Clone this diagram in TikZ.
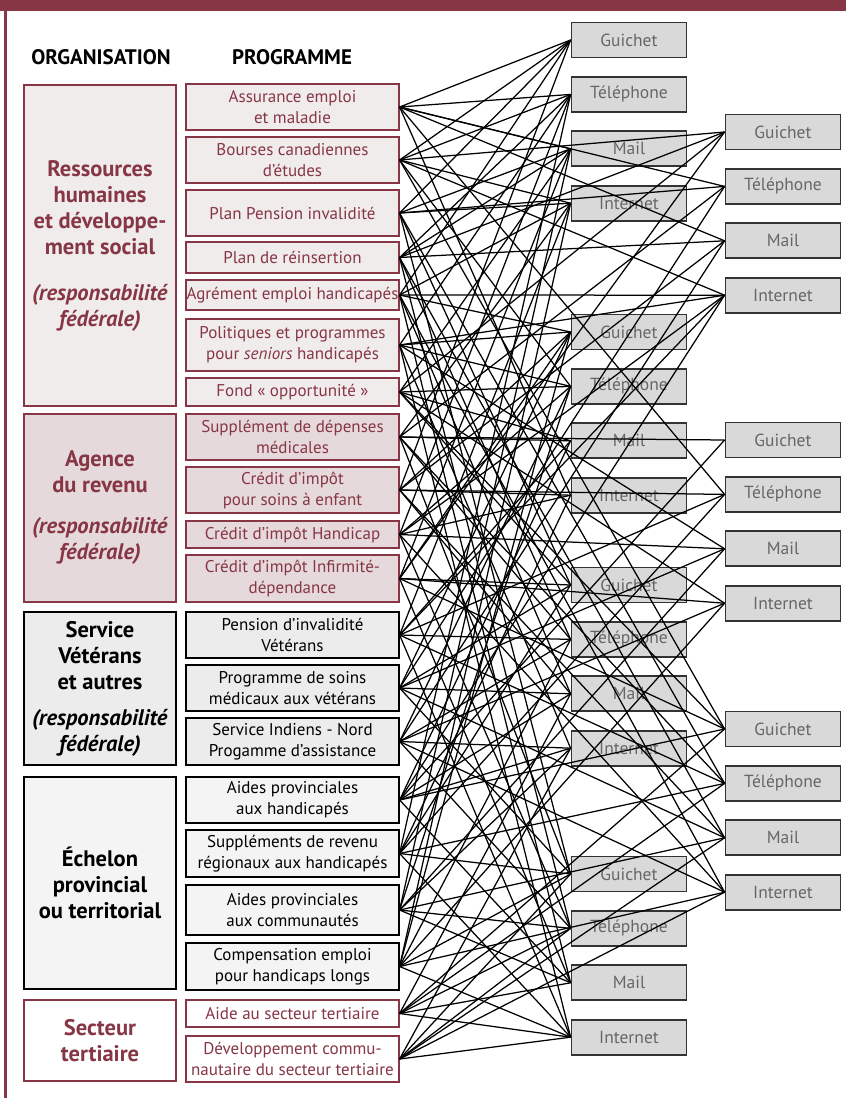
\documentclass[tikz,border=0pt]{standalone}
\usepackage{fontspec}
\setmainfont{PT Sans}
\usepackage{xcolor}
\usepackage{tikz}
\usetikzlibrary{positioning}

\definecolor{bordeaux}{RGB}{134,54,68}
\definecolor{rosepale}{RGB}{241,236,236}
\definecolor{rosefonce}{RGB}{230,217,219}
\definecolor{grispale}{RGB}{236,236,236}
\definecolor{grisclair}{RGB}{244,244,244}
\definecolor{griscanal}{RGB}{217,217,217}

\begin{document}
\begin{tikzpicture}[
    x=1pt, y=-1pt,
    org/.style={draw, line width=1.3pt, minimum width=152pt, inner sep=0pt,
      align=center, font=\fontsize{22.5}{26}\selectfont\bfseries},
    prog/.style={draw, line width=1.2pt, minimum width=213pt, inner sep=0pt,
      align=center, font=\fontsize{17}{21}\selectfont},
    rhbox/.style={draw=bordeaux, text=bordeaux, fill=rosepale},
    arbox/.style={draw=bordeaux, text=bordeaux, fill=rosefonce},
    svbox/.style={draw=black, text=black, fill=grispale},
    epbox/.style={draw=black, text=black, fill=grisclair},
    stbox/.style={draw=bordeaux, text=bordeaux, fill=white},
    canal/.style={draw=black!80, line width=1.8pt, fill=griscanal, text=black!60,
      minimum width=115pt, minimum height=35pt, inner sep=0pt,
      font=\fontsize{17.5}{20}\selectfont},
    lien/.style={line width=1.25pt}]

    \useasboundingbox (0,0) rectangle (846,1098);

    % cadre
    \fill [bordeaux] (0,0) rectangle (846,11);
    \fill [bordeaux] (4,11) rectangle (7,1098);

    \node [font=\fontsize{21}{24}\selectfont\bfseries] (titreorg) at (101,57) {ORGANISATION};
    \node [font=\fontsize{21}{24}\selectfont\bfseries] (titreprog) at (292,57) {PROGRAMME};

    % organisations
    \node [org, rhbox, minimum height=321pt] (orgRH) at (100,245.5)
    {Ressources\\humaines\\et développe-\\ment social\\[20pt]
      \textit{(responsabilité}\\\textit{fédérale)}};
    \node [org, arbox, minimum height=188pt] (orgAR) at (100,508)
    {Agence\\du revenu\\[15pt]\textit{(responsabilité}\\\textit{fédérale)}};
    \node [org, svbox, minimum height=153pt] (orgSV) at (100,688.5)
    {Service\\Vétérans\\et autres\\[10pt]\textit{(responsabilité}\\\textit{fédérale)}};
    \node [org, epbox, minimum height=212pt] (orgEP) at (100,883)
    {Échelon\\provincial\\ou territorial};
    \node [org, stbox, minimum height=81pt] (orgST) at (100,1040.5)
    {Secteur\\tertiaire};

    % programmes
    \foreach \n/\haut/\bas/\sty/\txt
    [evaluate=\haut as \h using \bas-\haut,
     evaluate=\haut as \yc using (\haut+\bas)/2] in {
      1/84/130/rhbox/{Assurance emploi\\et maladie},
      2/137/183/rhbox/{Bourses canadiennes\\d’études},
      3/190/236/rhbox/{Plan Pension invalidité},
      4/242/273/rhbox/{Plan de réinsertion},
      5/280/310/rhbox/{Agrément emploi handicapés},
      6/319/371/rhbox/{Politiques et programmes\\pour \textit{seniors} handicapés},
      7/378/406/rhbox/{Fond « opportunité »},
      8/414/460/arbox/{Supplément de dépenses\\médicales},
      9/467/513/arbox/{Crédit d’impôt\\pour soins à enfant},
      10/521/548/arbox/{Crédit d’impôt Handicap},
      11/555/602/arbox/{Crédit d’impôt Infirmité-\\dépendance},
      12/612/658/svbox/{Pension d’invalidité\\Vétérans},
      13/665/711/svbox/{Programme de soins\\médicaux aux vétérans},
      14/718/765/svbox/{Service Indiens - Nord\\Progamme d’assistance},
      15/777/823/epbox/{Aides provinciales\\aux handicapés},
      16/830/877/epbox/{Suppléments de revenu\\régionaux aux handicapés},
      17/885/935/epbox/{Aides provinciales\\aux communautés},
      18/943/990/epbox/{Compensation emploi\\pour handicaps longs},
      19/1000/1027/stbox/{Aide au secteur tertiaire},
      20/1036/1082/stbox/{Développement commu-\\nautaire du secteur tertiaire}} {
      \node [prog, \sty, minimum height=\h pt] (prog\n) at (292.5,\yc) {\txt};
    }

    % canaux de service
    \foreach \grp/\xc/\ydeb in {A1/629/40, A2/629/332, A3/629/585, A4/629/874,
                                B1/783/132, B2/783/440, B3/783/729} {
      \foreach \t/\lab [count=\k from 0] in {g/Guichet, t/Téléphone, m/Mail, i/Internet} {
        \node [canal] (\grp\t) at (\xc,{\ydeb+54.4*\k}) {\lab};
      }
    }

    % liens programme -> canal
    \foreach \p/\cibles in {
      1/{A1g,A1t,A1m,A2i,B1t,B1m,B2t},
      2/{A1g,A1t,A1i,B1g,B1i,A2t,B3g},
      3/{A1g,A1m,A1i,B1t,A3g,B3t,A4g},
      4/{A1t,A1m,B1g,B1m,A3t,B3m,A4t},
      5/{A1g,A1i,B1i,A2g,A3m,B3i,A4m},
      6/{A1t,A2g,A2t,B1i,B2m,A3i,A4i},
      7/{A1m,A2t,A2m,B1g,B2i,A3g,B3g},
      8/{A1i,A2m,B2g,B1t,A3t,A4g,B3t},
      9/{A1g,A2g,A2i,B2t,B1m,A3m,B3m},
      10/{A1t,A2t,A2i,B2m,B1i,A4t,B3i},
      11/{A1m,A2g,A3g,B2i,B1g,A4m,B3g},
      12/{A1i,A2m,A3t,B2t,B1i,A4i,B3t},
      13/{A2g,A3g,A3m,B2m,B1t,A4g,B3m},
      14/{A2t,A3t,A3i,B2i,B1m,A4t,B3i},
      15/{A2m,A3m,A3i,B2g,B1i,A4m,B3g},
      16/{A2i,A3g,B3t,A4g,A4i,B2t,A1t},
      17/{A2t,A3i,B3m,A4t,A4m,B2m,A1m},
      18/{A2g,A3t,B3i,A4g,A4i,B2i,A1i},
      19/{A3m,B3g,A4t,A4m,A4i,B3t},
      20/{A3i,B3m,A4g,A4t,A4i,B3i}} {
      \foreach \c in \cibles
        \draw [lien] (prog\p.east) -- (\c.west);
    }

  \end{tikzpicture}
\end{document}
